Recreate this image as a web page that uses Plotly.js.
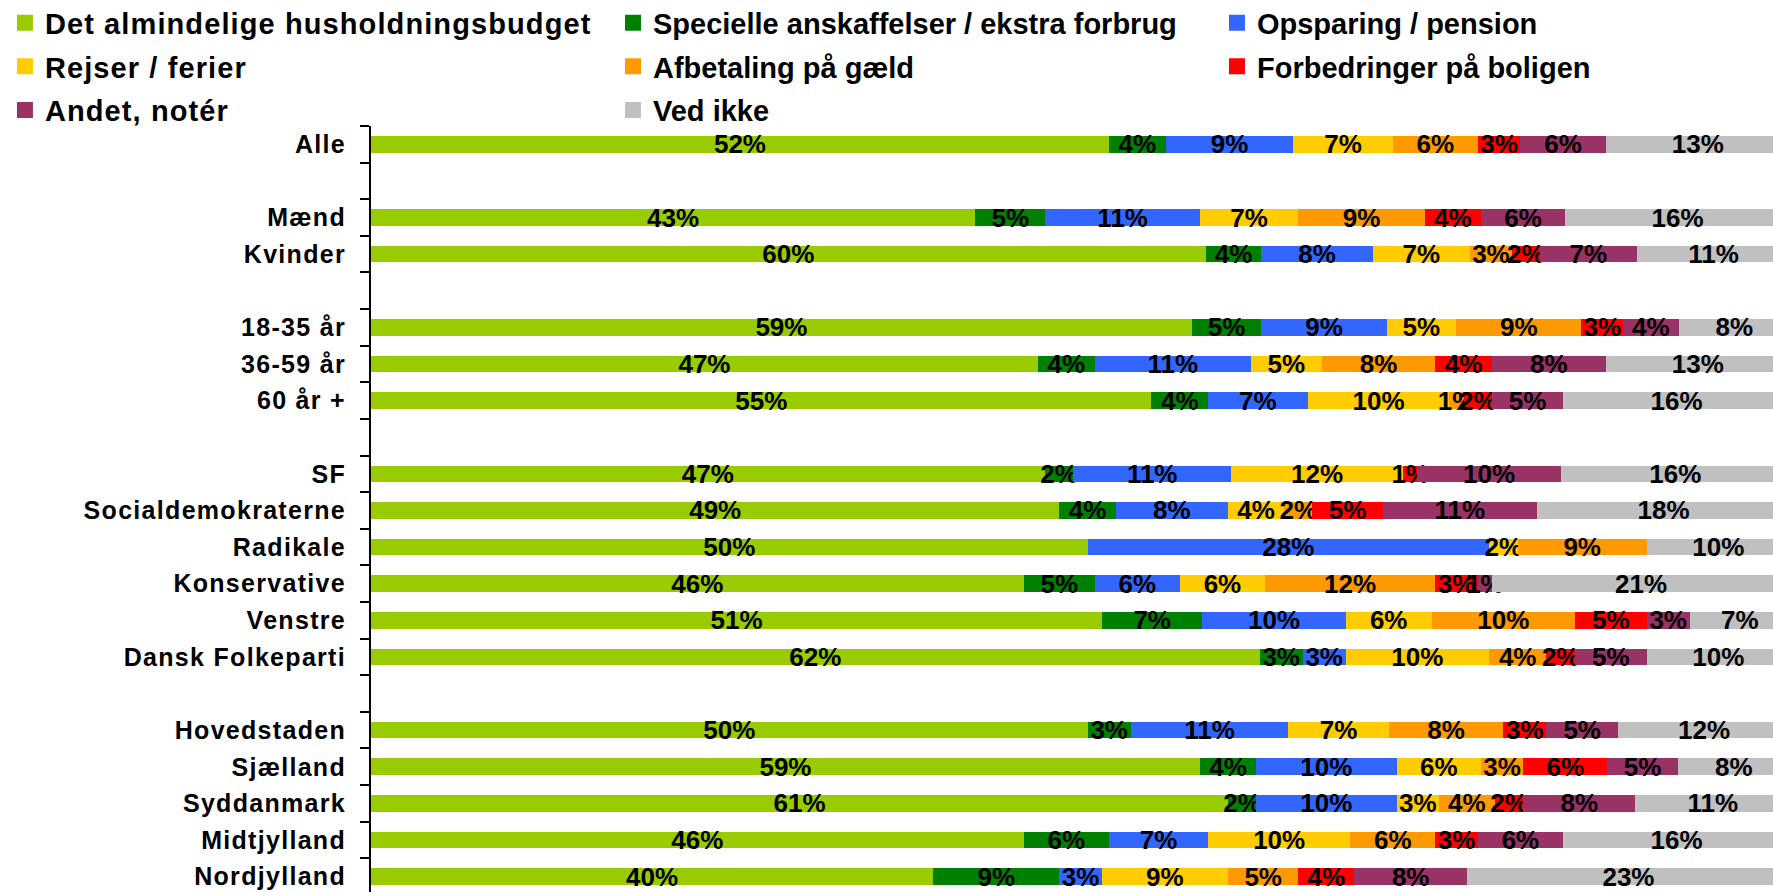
<!DOCTYPE html>
<html>
<head>
<meta charset="utf-8">
<script src="https://cdn.plot.ly/plotly-3.0.1.min.js"></script>
<style>
  html, body { margin: 0; padding: 0; background: #ffffff; }
  #chart { width: 1773px; height: 892px; }
  .legendtext { letter-spacing: 1.1px; }
  #chart .ytick text { letter-spacing: 1.3px; }
</style>
</head>
<body>
<div id="chart"></div>
<script>
// Categories (blank entries are spacer rows)
const categories = ['Alle', ' ', 'Mænd', 'Kvinder', '  ', '18-35 år', '36-59 år', '60 år +', '   ',
  'SF', 'Socialdemokraterne', 'Radikale', 'Konservative', 'Venstre', 'Dansk Folkeparti', '    ',
  'Hovedstaden', 'Sjælland', 'Syddanmark', 'Midtjylland', 'Nordjylland'];

const seriesNames = ['Det almindelige husholdningsbudget', 'Specielle anskaffelser / ekstra forbrug',
  'Opsparing / pension', 'Rejser / ferier', 'Afbetaling på gæld', 'Forbedringer på boligen',
  'Andet, notér', 'Ved ikke'];

const husholdning  = [52, null, 43, 60, null, 59, 47, 55, null, 47, 49, 50, 46, 51, 62, null, 50, 59, 61, 46, 40];
const specielle    = [4, null, 5, 4, null, 5, 4, 4, null, 2, 4, 0, 5, 7, 3, null, 3, 4, 2, 6, 9];
const opsparing    = [9, null, 11, 8, null, 9, 11, 7, null, 11, 8, 28, 6, 10, 3, null, 11, 10, 10, 7, 3];
const rejser       = [7, null, 7, 7, null, 5, 5, 10, null, 12, 4, 2, 6, 6, 10, null, 7, 6, 3, 10, 9];
const afbetaling   = [6, null, 9, 3, null, 9, 8, 1, null, 0, 2, 9, 12, 10, 4, null, 8, 3, 4, 6, 5];
const forbedringer = [3, null, 4, 2, null, 3, 4, 2, null, 1, 5, 0, 3, 5, 2, null, 3, 6, 2, 3, 4];
const andet        = [6, null, 6, 7, null, 4, 8, 5, null, 10, 11, 0, 1, 3, 5, null, 5, 5, 8, 6, 8];
const vedIkke      = [13, null, 16, 11, null, 8, 13, 16, null, 16, 18, 10, 21, 7, 10, null, 12, 8, 11, 16, 23];

const seriesValues = [husholdning, specielle, opsparing, rejser, afbetaling, forbedringer, andet, vedIkke];
const colors = ['#99CC00', '#008000', '#3366FF', '#FFCC00', '#FF9900', '#FF0000', '#993366', '#C0C0C0'];
const legendFor = ['legend', 'legend2', 'legend3', 'legend', 'legend2', 'legend3', 'legend', 'legend2'];

const FONT = '"Liberation Sans", Arial, Helvetica, sans-serif';

const barTraces = seriesValues.map((vals, i) => ({
  type: 'bar',
  orientation: 'h',
  name: seriesNames[i],
  y: categories,
  x: vals,
  text: vals.map(v => (v ? v + '%' : '')),
  textposition: 'inside',
  insidetextanchor: 'middle',
  textangle: 0,
  constraintext: 'none',
  textfont: { family: FONT, size: 26, color: '#000000', weight: 'bold' },
  marker: { color: colors[i], line: { width: 0 } },
  showlegend: false,
  legendgroup: 'g' + i,
  hoverinfo: 'skip',
  cliponaxis: true
}));

// Legend-only entries (square swatches like the reference)
const legendTraces = seriesNames.map((name, i) => ({
  type: 'scatter',
  mode: 'markers',
  name: name,
  x: [null],
  y: [null],
  marker: { symbol: 'square', size: 16, color: colors[i], line: { width: 0 } },
  legend: legendFor[i],
  legendgroup: 'g' + i,
  showlegend: true,
  hoverinfo: 'skip'
}));

const legendBase = {
  orientation: 'v',
  xanchor: 'left',
  yanchor: 'top',
  y: 1.168,
  bgcolor: 'rgba(0,0,0,0)',
  borderwidth: 0,
  traceorder: 'grouped',
  tracegroupgap: 3,
  itemsizing: 'trace',
  font: { family: FONT, size: 29, color: '#000000', weight: 'bold' }
};

const layout = {
  width: 1773,
  height: 892,
  margin: { l: 371, r: 0, t: 126, b: 0, autoexpand: false },
  paper_bgcolor: '#ffffff',
  plot_bgcolor: '#ffffff',
  barmode: 'stack',
  barnorm: 'percent',
  bargap: 0.545,
  uniformtext: { mode: 'show', minsize: 26 },
  showlegend: true,
  legend: Object.assign({}, legendBase, { x: -0.2611 }),
  legend2: Object.assign({}, legendBase, { x: 0.1726 }),
  legend3: Object.assign({}, legendBase, { x: 0.6034 }),
  xaxis: {
    range: [0, 98.8],
    visible: false,
    showgrid: false,
    zeroline: false,
    fixedrange: true
  },
  yaxis: {
    type: 'category',
    categoryorder: 'array',
    categoryarray: categories,
    range: [20.42, -0.5],
    showline: true,
    linecolor: '#000000',
    linewidth: 2,
    ticks: 'outside',
    tickson: 'boundaries',
    ticklen: 9,
    tickwidth: 2,
    tickcolor: '#000000',
    ticklabelstandoff: 18,
    showgrid: false,
    zeroline: false,
    tickfont: { family: FONT, size: 25, color: '#000000', weight: 'bold' },
    fixedrange: true
  },
  font: { family: FONT, color: '#000000' }
};

Plotly.newPlot('chart', barTraces.concat(legendTraces), layout, { displayModeBar: false, staticPlot: true });
</script>
</body>
</html>
